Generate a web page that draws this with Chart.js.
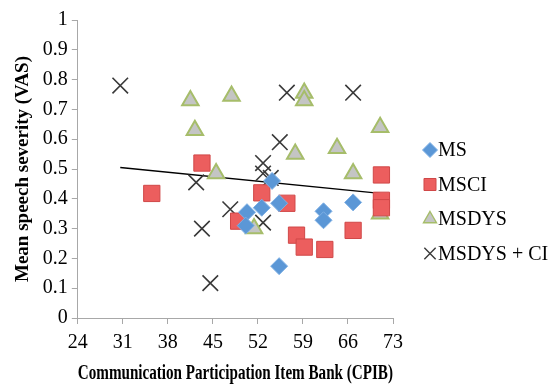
<!DOCTYPE html>
<html>
<head>
<meta charset="utf-8">
<script src="https://cdn.jsdelivr.net/npm/chart.js@4/dist/chart.umd.min.js"></script>
<style>
  html, body { margin: 0; padding: 0; background: #fff; }
  #wrap { width: 550px; height: 384px; }
</style>
</head>
<body>
<div id="wrap"><canvas id="myChart"></canvas></div>
<script>
// Data (CPIB score, mean VAS)
const msX = [54.2, 50.3, 50.1, 52.6, 55.3, 62.2, 62.2, 66.8, 55.3];
const msY = [0.46, 0.355, 0.31, 0.37, 0.385, 0.358, 0.328, 0.388, 0.174];

const msciX = [35.5, 43.3, 52.6, 49.0, 56.5, 58.0, 59.2, 62.4, 66.8, 71.2, 71.2, 71.2];
const msciY = [0.418, 0.52, 0.42, 0.325, 0.385, 0.278, 0.238, 0.23, 0.294, 0.48, 0.395, 0.37];

const msdysX = [41.5, 42.2, 47.9, 59.2, 59.2, 71.0, 64.3, 57.8, 66.8, 45.5, 51.4, 71.0];
const msdysY = [0.73, 0.63, 0.745, 0.755, 0.73, 0.64, 0.57, 0.55, 0.485, 0.485, 0.3, 0.35];

const msdysCiX = [30.6, 56.5, 66.8, 55.4, 52.8, 52.8, 54.0, 42.4, 47.7, 43.3, 52.8, 44.6];
const msdysCiY = [0.78, 0.756, 0.756, 0.59, 0.52, 0.485, 0.47, 0.455, 0.365, 0.30, 0.32, 0.117];

// linear trend line end points
const trendX = [30.6, 71.0];
const trendY = [0.505, 0.418];

const seriesNames = ["MS", "MSCI", "MSDYS", "MSDYS + CI"];

const xTicks = [24, 31, 38, 45, 52, 59, 66, 73];

const SERIF = "'Liberation Serif', 'Times New Roman', serif";

// side legend placement (built-in legend can't get wide enough here)
const LEG_X = 430;
const LEG_TEXT_X = 438;
const LEG_Y0 = 150;
const LEG_STEP = 34.5;
const LEG_RADIUS = [7.5, 8.5, 7.5, 8];

function pts(xs, ys) {
  return xs.map((x, i) => ({ x: x, y: ys[i] }));
}

let datasets = [
  {
    label: seriesNames[0],
    data: pts(msX, msY),
    pointStyle: 'rectRot',
    pointRadius: 8.5,
    backgroundColor: '#5b97d6',
    borderColor: '#7fb0e4',
    borderWidth: 1
  },
  {
    label: seriesNames[1],
    data: pts(msciX, msciY),
    pointStyle: 'rect',
    pointRadius: 11.5,
    backgroundColor: '#ec5e5e',
    borderColor: '#d04848',
    borderWidth: 1
  },
  {
    label: seriesNames[2],
    data: pts(msdysX, msdysY),
    pointStyle: 'triangle',
    pointRadius: 9.5,
    backgroundColor: '#c4c5c4',
    borderColor: '#a6bd6a',
    borderWidth: 2
  },
  {
    label: seriesNames[3],
    data: pts(msdysCiX, msdysCiY),
    pointStyle: 'crossRot',
    pointRadius: 11,
    backgroundColor: '#3a3a3a',
    borderColor: '#3a3a3a',
    borderWidth: 1.6
  },
  {
    label: 'trend',
    type: 'line',
    data: pts(trendX, trendY),
    showLine: true,
    pointRadius: 0,
    borderColor: '#000',
    borderWidth: 1.3,
    fill: false
  }
];

// draws the legend to the right of the plot using the datasets' own marker styles
const sideLegend = {
  id: 'sideLegend',
  afterDraw(chart) {
    const c = chart.ctx;
    c.save();
    c.font = `20px ${SERIF}`;
    c.textBaseline = 'middle';
    c.textAlign = 'left';
    seriesNames.forEach((name, i) => {
      const ds = chart.data.datasets[i];
      const y = LEG_Y0 + i * LEG_STEP;
      c.fillStyle = ds.backgroundColor;
      c.strokeStyle = ds.borderColor;
      c.lineWidth = Math.min(ds.borderWidth, 1.4);
      Chart.helpers.drawPoint(c, { pointStyle: ds.pointStyle, radius: LEG_RADIUS[i], borderWidth: c.lineWidth, rotation: 0 }, LEG_X, y);
      c.fillStyle = '#000';
      c.fillText(name, LEG_TEXT_X, y + 1);
    });
    c.restore();
  }
};

let ctx = document.getElementById('myChart').getContext('2d');
let myChart = new Chart(ctx, {
  type: 'scatter',
  data: { datasets: datasets },
  plugins: [sideLegend],
  options: {
    responsive: true,
    maintainAspectRatio: false,
    animation: false,
    layout: { padding: { top: 20, right: 157, left: 12, bottom: 0 } },
    plugins: {
      tooltip: { enabled: false },
      legend: { display: false }
    },
    scales: {
      x: {
        type: 'linear',
        min: 24,
        max: 73,
        afterBuildTicks: axis => { axis.ticks = xTicks.map(v => ({ value: v })); },
        grid: { display: true, drawOnChartArea: false, drawTicks: true, tickLength: 6, color: '#a8a8a8' },
        border: { color: '#a8a8a8', width: 1 },
        ticks: { color: '#000', font: { family: SERIF, size: 20 }, padding: 7, maxRotation: 0 },
        title: {
          display: true,
          text: 'Communication Participation Item Bank (CPIB)',
          color: '#000',
          font: { family: SERIF, size: 20, weight: 'bold', lineHeight: 1.0 },
          padding: { top: 2, bottom: 0 }
        }
      },
      y: {
        min: 0,
        max: 1,
        ticks: {
          stepSize: 0.1,
          color: '#000',
          font: { family: SERIF, size: 20 },
          padding: 4,
          callback: v => String(Math.round(v * 10) / 10)
        },
        grid: { display: true, drawOnChartArea: false, drawTicks: true, tickLength: 6, color: '#a8a8a8' },
        border: { color: '#a8a8a8', width: 1 },
        title: {
          display: true,
          text: 'Mean speech severity (VAS)',
          color: '#000',
          font: { family: SERIF, size: 19, weight: 'bold' },
          padding: { top: 0, bottom: 4 }
        }
      }
    }
  }
});
</script>
</body>
</html>
